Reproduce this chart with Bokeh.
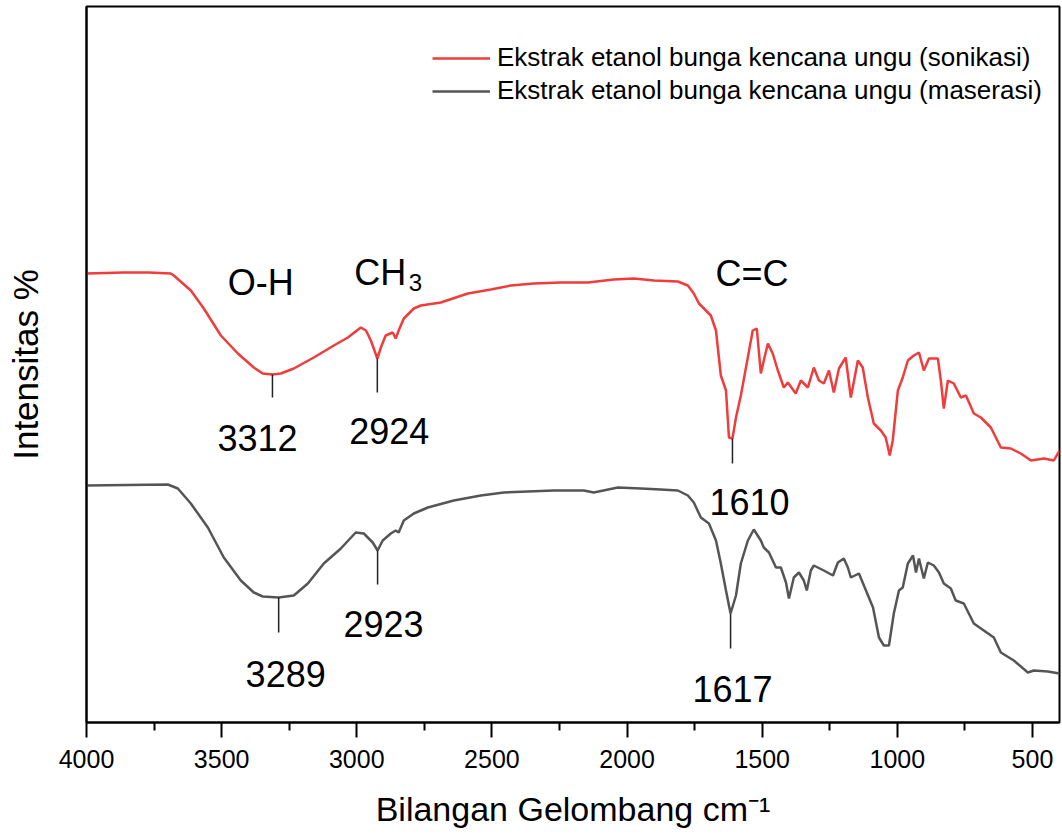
import numpy as np
from bokeh.plotting import figure
from bokeh.models import Range1d, FixedTicker, Legend, LegendItem, ColumnDataSource
from bokeh.embed import file_html
from bokeh.resources import INLINE
from bokeh.core.properties import value

# ---------------- data ----------------
wn_sonikasi = [4000, 3862, 3770, 3688, 3677, 3614, 3566, 3503, 3440, 3381, 3348, 3312, 3281, 3233,
               3159, 3085, 3033, 2985, 2966, 2948, 2924, 2911, 2893, 2867, 2856, 2845, 2826, 2789,
               2763, 2689, 2589, 2504, 2430, 2345, 2245, 2145, 2049, 1975, 1901, 1812, 1775, 1753,
               1734, 1690, 1671, 1653, 1634, 1623, 1610, 1597, 1579, 1560, 1535, 1520, 1505, 1494,
               1479, 1461, 1442, 1420, 1405, 1376, 1357, 1331, 1309, 1290, 1272, 1253, 1235, 1216,
               1191, 1172, 1146, 1128, 1109, 1087, 1061, 1043, 1028, 1017, 998, 980, 961, 939, 920,
               902, 883, 850, 839, 828, 813, 791, 765, 746, 717, 691, 654, 617, 580, 543, 506, 458,
               421, 400]
int_sonikasi = [449, 450, 450, 449, 447, 432, 414, 387, 369, 355, 349, 348, 349, 354,
                365, 377, 385, 395, 392, 382, 364, 375, 387, 390, 384, 392, 404, 414,
                417, 420, 429, 433, 437, 439, 440, 440, 443, 444, 442, 441, 437, 429,
                419, 407, 392, 347, 332, 285, 284, 305, 327, 355, 392, 394, 349, 362,
                379, 369, 352, 335, 340, 329, 342, 335, 355, 342, 339, 352, 330, 354,
                365, 325, 362, 355, 325, 299, 292, 285, 267, 282, 332, 345, 362, 367, 370,
                352, 364, 364, 342, 314, 342, 339, 325, 327, 309, 305, 295, 275, 274, 269, 262, 264,
                262, 272]

wn_maserasi = [4000, 3699, 3662, 3614, 3551, 3492, 3429, 3381, 3348, 3289, 3233, 3181, 3122, 3059,
               3004, 2974, 2941, 2923, 2904, 2874, 2856, 2845, 2826, 2789, 2763, 2737, 2641, 2541,
               2456, 2367, 2271, 2160, 2123, 2034, 1949, 1875, 1812, 1775, 1753, 1727, 1697, 1671,
               1653, 1634, 1617, 1597, 1579, 1553, 1531, 1505, 1494, 1475, 1449, 1431, 1412, 1401,
               1383, 1364, 1346, 1335, 1320, 1309, 1272, 1238, 1220, 1198, 1183, 1172, 1142, 1116,
               1090, 1068, 1050, 1031, 1013, 994, 980, 961, 942, 931, 920, 902, 887, 865, 846, 828,
               802, 784, 754, 717, 680, 643, 617, 569, 517, 495, 443, 400]
int_maserasi = [237, 238, 234, 219, 195, 165, 142, 130, 126, 125, 127, 139, 159, 174,
                190, 189, 180, 172, 182, 189, 192, 190, 202, 209, 212, 215, 222, 227,
                230, 231, 232, 232, 230, 235, 234, 233, 232, 227, 220, 205, 199, 182,
                159, 132, 109, 127, 159, 182, 193, 182, 175, 170, 155, 155, 140, 124,
                145, 150, 142, 132, 152, 157, 152, 147, 160, 164, 155, 145, 149, 132,
                115, 85, 77, 77, 109, 132, 135, 159, 167, 150, 164, 144, 160, 157, 150, 139,
                134, 122, 119, 99, 92, 85, 70, 62, 50, 52, 51, 49]

peaks_sonikasi = [3312, 2924, 1610]
peaks_maserasi = [3289, 2923, 1617]

series_labels = ["Ekstrak etanol bunga kencana ungu (sonikasi)",
                 "Ekstrak etanol bunga kencana ungu (maserasi)"]
x_ticks = [4000, 3500, 3000, 2500, 2000, 1500, 1000, 500]
x_minor = [3750, 3250, 2750, 2250, 1750, 1250, 750]

# ---------------- styling / layout ----------------
RED = "#F03C3C"
GRAY = "#555555"
FONT = "Liberation Sans"

p = figure(frame_width=973, frame_height=716, output_backend="svg", toolbar_location=None,
           x_range=Range1d(4000, 400), y_range=Range1d(0, 716),
           min_border_left=86, min_border_right=2, min_border_top=6, min_border_bottom=110)
p.background_fill_color = "white"
p.border_fill_color = "white"
p.outline_line_color = "black"
p.outline_line_width = 2
p.grid.visible = False

r1 = p.line(wn_sonikasi, int_sonikasi, line_color=RED, line_width=2.5)
r2 = p.line(wn_maserasi, int_maserasi, line_color=GRAY, line_width=2.5)

# peak marker lines + labels
line_len_s = [23, 34, 25]
text_gap_s = [40, 38, 38]
xoff_s = [-15, 12, 17]
line_len_m = [35, 34, 35]
text_gap_m = [41, 39, 40]
xoff_m = [7, 6, 2]

def peak_annot(wns, ys_wn, ys_int, lens, gaps, xoffs):
    ytop = np.interp(wns[::-1], ys_wn[::-1], ys_int[::-1])[::-1]
    ybot = ytop - np.array(lens)
    p.segment(x0=wns, y0=ytop, x1=wns, y1=ybot, line_color="#222222", line_width=1.5)
    src = ColumnDataSource(dict(x=wns, y=ybot - np.array(gaps), t=[str(w) for w in wns], xo=xoffs))
    p.text(x="x", y="y", text="t", x_offset="xo", source=src, text_font=value(FONT),
           text_font_size="36px", text_align="center", text_baseline="alphabetic",
           text_color="black")

peak_annot(peaks_sonikasi, wn_sonikasi, int_sonikasi, line_len_s, text_gap_s, xoff_s)
peak_annot(peaks_maserasi, wn_maserasi, int_maserasi, line_len_m, text_gap_m, xoff_m)

# functional group labels
p.text(x=[3355, 2913, 1538], y=[440, 450, 449], text=["O-H", "CH", "C=C"],
       text_font=value(FONT), text_font_size="36px", text_align="center",
       text_baseline="alphabetic", text_color="black")
p.text(x=[2808], y=[440], text=["3"], text_font=value(FONT), text_font_size="24px",
       text_align="left", text_baseline="alphabetic", text_color="black")

# axes
xa = p.xaxis[0]
xa.ticker = FixedTicker(ticks=x_ticks, minor_ticks=x_minor)
xa.axis_line_width = 2
xa.major_tick_line_width = 2
xa.minor_tick_line_width = 2
xa.major_tick_in = 0
xa.major_tick_out = 15
xa.minor_tick_in = 0
xa.minor_tick_out = 8
xa.major_label_text_font = FONT
xa.major_label_text_font_size = "25px"
xa.major_label_text_color = "black"
xa.major_label_standoff = 12
xa.axis_label = "Bilangan Gelombang cm\u207b\u00b9"
xa.axis_label_text_font = FONT
xa.axis_label_text_font_size = "34px"
xa.axis_label_text_font_style = "normal"
xa.axis_label_text_color = "black"
xa.axis_label_standoff = 19

ya = p.yaxis[0]
ya.ticker = FixedTicker(ticks=[])
ya.axis_line_width = 2
ya.major_tick_out = 0
ya.major_tick_in = 0
ya.minor_tick_out = 0
ya.minor_tick_in = 0
ya.major_label_standoff = 0
ya.axis_label = "Intensitas %"
ya.axis_label_text_font = FONT
ya.axis_label_text_font_size = "35px"
ya.axis_label_text_font_style = "normal"
ya.axis_label_text_color = "black"
ya.axis_label_standoff = 42

legend = Legend(items=[LegendItem(label=series_labels[0], renderers=[r1]),
                       LegendItem(label=series_labels[1], renderers=[r2])],
                location=(346, 616))
legend.padding = 0
legend.margin = 0
legend.spacing = 2
legend.border_line_color = None
legend.background_fill_alpha = 0
legend.glyph_width = 58
legend.glyph_height = 30
legend.label_height = 30
legend.label_standoff = 7
legend.label_text_font = FONT
legend.label_text_font_size = "26px"
legend.label_text_color = "black"
p.add_layout(legend)

open("out.html", "w").write(file_html(p, INLINE))
